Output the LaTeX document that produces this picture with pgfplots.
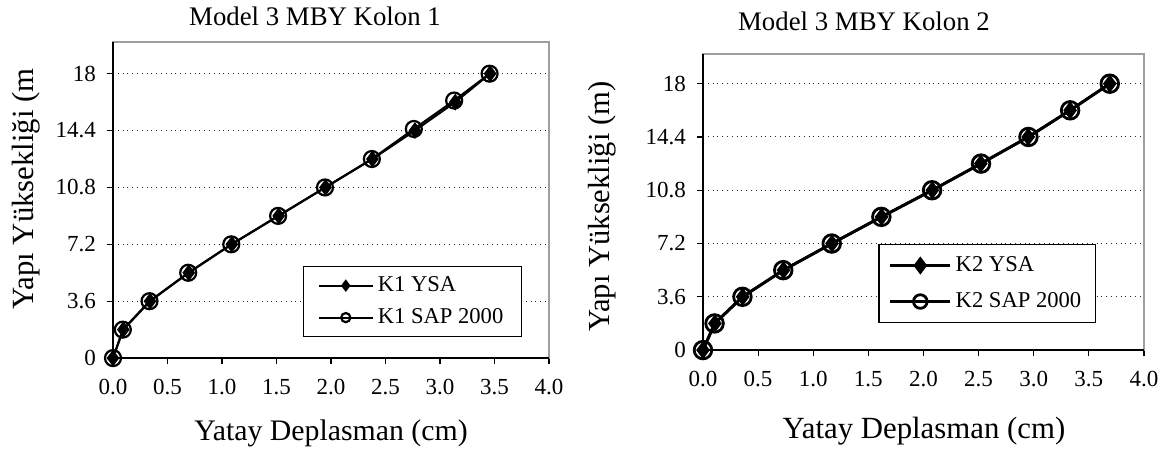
\documentclass[border=0pt]{standalone}
\usepackage{pgfplots}
\pgfplotsset{compat=1.18}
\usepackage{fontspec}
\setmainfont{Liberation Serif}

\pgfplotstableread{
x y
0.000 0.0
0.095 1.8
0.340 3.6
0.695 5.4
1.090 7.2
1.520 9.0
1.950 10.8
2.380 12.6
2.770 14.4
3.140 16.2
3.460 18.0
}\kOneYSA
\pgfplotstableread{
x y
0.000 0.0
0.090 1.8
0.335 3.6
0.690 5.4
1.085 7.2
1.515 9.0
1.945 10.8
2.375 12.6
2.760 14.5
3.130 16.3
3.455 18.0
}\kOneSAP
\pgfplotstableread{
x y
0.000 0.0
0.108 1.8
0.360 3.6
0.730 5.4
1.170 7.2
1.620 9.0
2.080 10.8
2.520 12.6
2.950 14.4
3.330 16.2
3.690 18.0
}\kTwoYSA
\pgfplotstableread{
x y
0.000 0.0
0.105 1.8
0.358 3.6
0.728 5.4
1.168 7.2
1.618 9.0
2.078 10.8
2.522 12.6
2.952 14.4
3.330 16.2
3.690 18.0
}\kTwoSAP

\pgfplotsset{
  kolon/.style={
    scale only axis,
    anchor=south west,
    xmin=0, xmax=4, ymin=0, ymax=20,
    xtick={0,0.5,1,1.5,2,2.5,3,3.5,4},
    xticklabels={0.0,0.5,1.0,1.5,2.0,2.5,3.0,3.5,4.0},
    ytick={0,3.6,7.2,10.8,14.4,18},
    yticklabels={0,3.6,7.2,10.8,14.4,18},
    xtick pos=bottom, ytick pos=left,
    tick align=outside, major tick length=3pt,
    tick style={black, line width=0.6pt},
    ticklabel style={font=\fontsize{11.5}{12}\selectfont},
    xticklabel style={yshift=-4pt},
    yticklabel style={xshift=-2pt},
    ymajorgrids,
    major grid style={black!85, dotted, line width=0.5pt},
    axis line style={gray!75, line width=1pt},
    clip=false,
    reverse legend,
    legend cell align=left,
    legend style={draw=black, line width=0.6pt, fill=white,
      font=\fontsize{11.3}{12}\selectfont, row sep=2pt, inner xsep=7pt, inner ysep=3pt},
  },
}

\begin{document}
\begin{tikzpicture}
\path (0,0) rectangle (582.5pt,225.5pt);

% Kolon 1
\begin{axis}[kolon, at={(56.5pt,46.5pt)}, width=218pt, height=158pt,
  legend style={at={(0.938,0.066)}, anchor=south east, row sep=3pt},
  legend image code/.code={
    \draw[mark repeat=2, mark phase=2, mark size=2.3pt] plot coordinates {(0pt,0pt) (13.5pt,0pt) (27pt,0pt)};}]
\addplot[black, line width=1pt, mark=o, mark size=4pt,
  mark options={fill=white, line width=1.1pt}] table[x=x,y=y] {\kOneSAP};
\addlegendentry{K1 SAP 2000}
\addplot[black, line width=1pt, mark=diamond*, mark size=3.4pt,
  mark options={fill=black}] table[x=x,y=y] {\kOneYSA};
\addlegendentry{K1 YSA}
\draw[black, line width=1pt] (rel axis cs:0,1) -- (rel axis cs:0,0) -- (rel axis cs:1,0);
\end{axis}

% Kolon 2
\begin{axis}[kolon, at={(351.5pt,50.5pt)}, width=220.5pt, height=148pt,
  legend style={at={(0.891,0.091)}, anchor=south east, row sep=5pt, inner ysep=4pt, inner xsep=5pt},
  legend image code/.code={
    \draw[mark repeat=2, mark phase=2, mark size=3.4pt] plot coordinates {(0pt,0pt) (15pt,0pt) (30pt,0pt)};}]
\addplot[black, line width=1.4pt, mark=o, mark size=4.4pt,
  mark options={fill=white, line width=1.4pt}] table[x=x,y=y] {\kTwoSAP};
\addlegendentry{K2 SAP 2000}
\addplot[black, line width=1.4pt, mark=diamond*, mark size=3.4pt,
  mark options={fill=black}] table[x=x,y=y] {\kTwoYSA};
\addlegendentry{K2 YSA}
\draw[black, line width=1pt] (rel axis cs:0,1) -- (rel axis cs:0,0) -- (rel axis cs:1,0);
\end{axis}

% titles and axis labels
\node[font=\fontsize{13.4}{14}\selectfont] at (157.5pt,217.5pt) {Model 3 MBY Kolon 1};
\node[font=\fontsize{13.4}{14}\selectfont] at (432pt,215pt) {Model 3 MBY Kolon 2};
\node[font=\fontsize{14.9}{16}\selectfont] at (165.5pt,9pt) {Yatay Deplasman (cm)};
\node[font=\fontsize{15.4}{16}\selectfont] at (462pt,10pt) {Yatay Deplasman (cm)};
\node[font=\fontsize{15.4}{16}\selectfont, rotate=90, anchor=west, inner sep=0pt]
  at (13pt,70.5pt) {Yapı Yüksekliği (m};
\node[font=\fontsize{15.3}{16}\selectfont, rotate=90, anchor=west, inner sep=0pt]
  at (301pt,59.5pt) {Yapı Yüksekliği (m)};
\end{tikzpicture}
\end{document}
